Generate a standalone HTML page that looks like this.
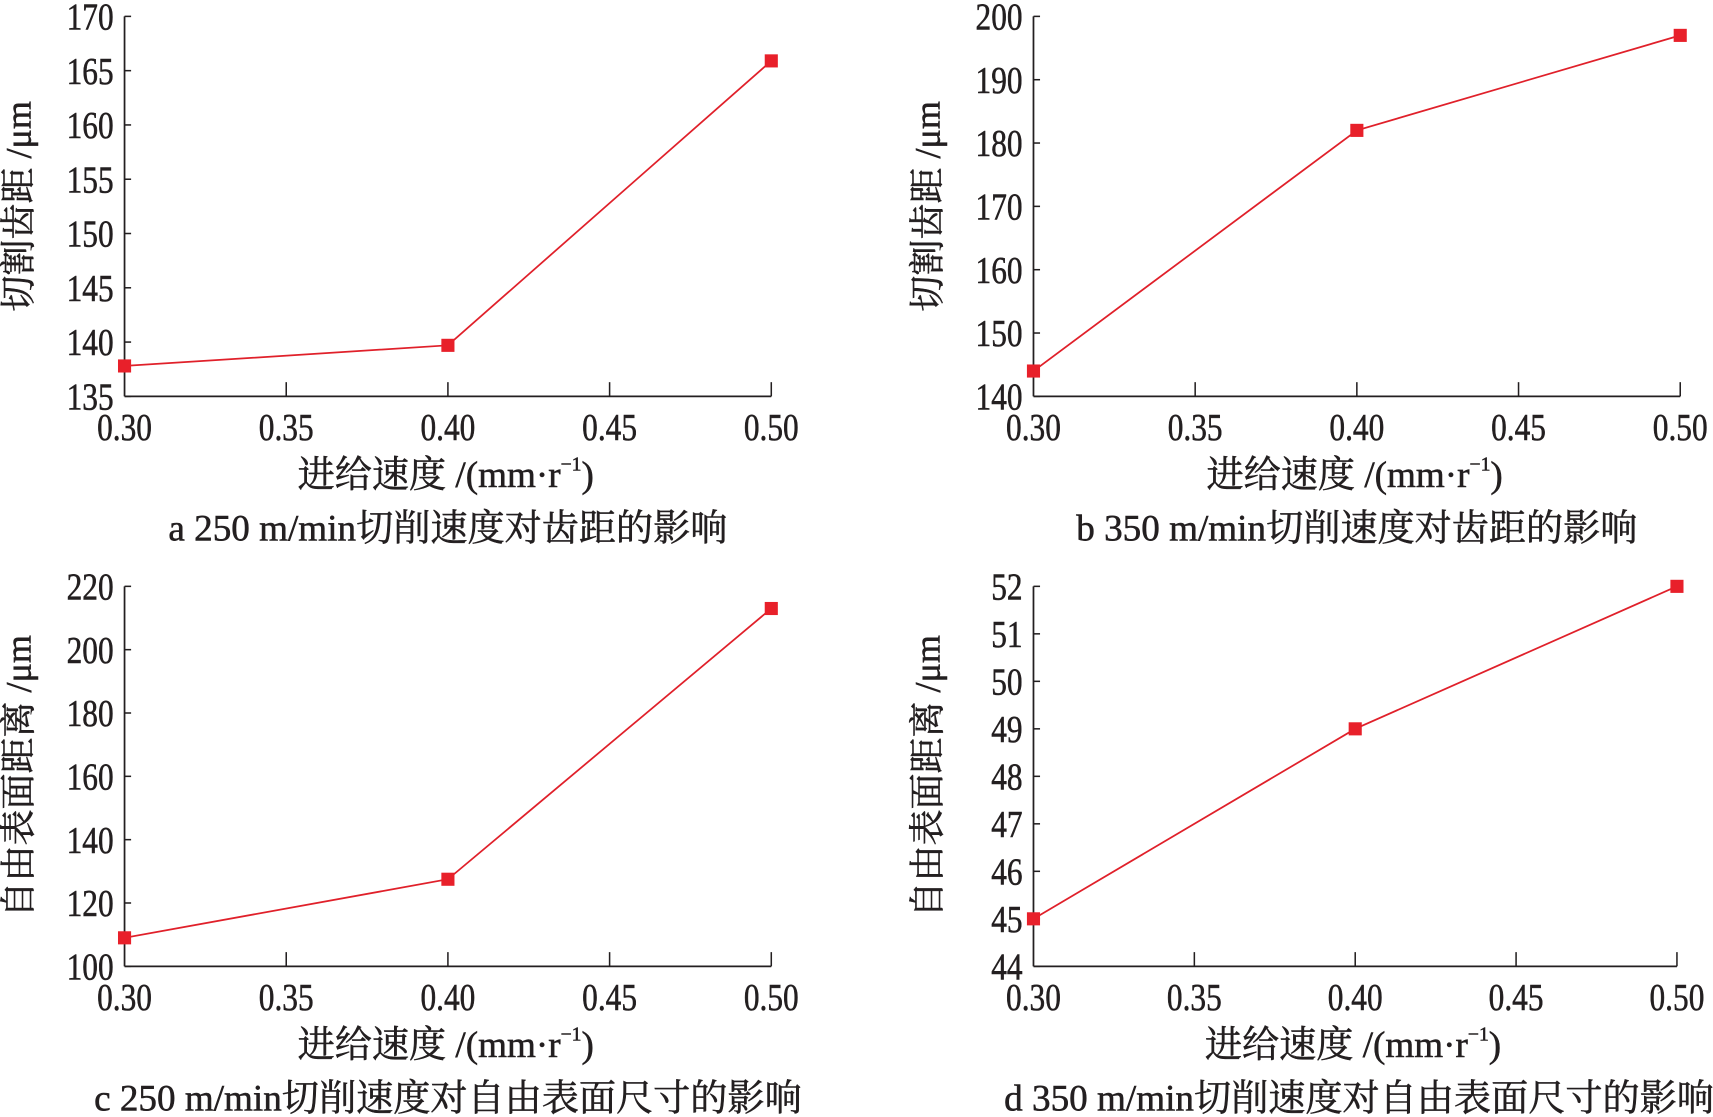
<!DOCTYPE html>
<html><head><meta charset="utf-8"><style>
html,body{margin:0;padding:0;background:#fff;}
svg{display:block;}
text{font-family:"Liberation Serif","Noto Serif CJK SC",serif;fill:#231f20;stroke:#231f20;stroke-width:0.5;}
</style></head><body>
<svg id="s" width="1713" height="1117" viewBox="0 0 1568 1023" preserveAspectRatio="none" xmlns="http://www.w3.org/2000/svg"></svg>
<script>
const s=document.getElementById('s');let h='';
function panel(ax,ay0,ay1,xr,ymin,ymax,ystep,dec,data,ytitle,cap,capx){
  h+=`<line x1="${ax}" y1="${ay0}" x2="${ax}" y2="${ay1}" stroke="#231f20" stroke-width="1.6"/>`;
  h+=`<line x1="${ax}" y1="${ay1}" x2="${xr}" y2="${ay1}" stroke="#231f20" stroke-width="1.6"/>`;
  const n=Math.round((ymax-ymin)/ystep);
  for(let i=0;i<=n;i++){const v=ymin+i*ystep;const y=ay1-(ay1-ay0)*i/n;
    h+=`<line x1="${ax}" y1="${y}" x2="${ax+6}" y2="${y}" stroke="#231f20" stroke-width="1.4"/>`;
    h+=`<text x="${ax-10}" y="${y+12}" font-size="35" text-anchor="end" transform="translate(${ax-10} 0) scale(0.82 1) translate(${-(ax-10)} 0)">${v.toFixed(dec)}</text>`;}
  const xs=['0.30','0.35','0.40','0.45','0.50'];
  for(let i=0;i<5;i++){const x=ax+(xr-ax)*i/4;
    if(i>0)h+=`<line x1="${x}" y1="${ay1}" x2="${x}" y2="${ay1-13}" stroke="#231f20" stroke-width="1.4"/>`;
    h+=`<text x="${x}" y="${ay1+40}" font-size="35" text-anchor="middle" transform="translate(${x} 0) scale(0.82 1) translate(${-x} 0)">${xs[i]}</text>`;}
  const pts=data.map(d=>[ax+(xr-ax)*(d[0]-0.3)/0.2, ay1-(ay1-ay0)*(d[1]-ymin)/(ymax-ymin)]);
  h+=`<polyline points="${pts.map(p=>p.join(',')).join(' ')}" fill="none" stroke="#e0202a" stroke-width="1.6"/>`;
  pts.forEach(p=>h+=`<rect x="${p[0]-6}" y="${p[1]-6}" width="12" height="12" fill="#e8202a"/>`);
  const mx=(ax+xr)/2-2;
  h+=`<text x="${mx}" y="${ay1+83}" font-size="34" text-anchor="middle">进给速度 /(mm·r<tspan font-size="18" dy="-15">−1</tspan><tspan dy="15">)</tspan></text>`;
  const cy=(ay0+ay1)/2;const tx=ax-86;
  h+=`<text x="0" y="0" font-size="33" text-anchor="middle" transform="translate(${tx} ${cy}) rotate(-90)">${ytitle}</text>`;
  h+=`<text x="${capx}" y="${ay1+132}" font-size="34" text-anchor="middle">${cap}</text>`;
}
panel(114,15,363,706,135,170,5,0,[[0.3,137.8],[0.4,139.7],[0.5,165.9]],'切割齿距 /μm','a  250 m/min切削速度对齿距的影响',410);
panel(946,15,363,1538,140,200,10,0,[[0.3,144],[0.4,182],[0.5,197]],'切割齿距 /μm','b  350 m/min切削速度对齿距的影响',1242);
panel(114,537,885,706,100,220,20,0,[[0.3,109],[0.4,127.5],[0.5,213]],'自由表面距离 /μm','c  250 m/min切削速度对自由表面尺寸的影响',410);
panel(946,537,885,1535,44,52,1,0,[[0.3,45],[0.4,49],[0.5,52]],'自由表面距离 /μm','d  350 m/min切削速度对自由表面尺寸的影响',1244);
s.innerHTML=h;
</script>
</body></html>
